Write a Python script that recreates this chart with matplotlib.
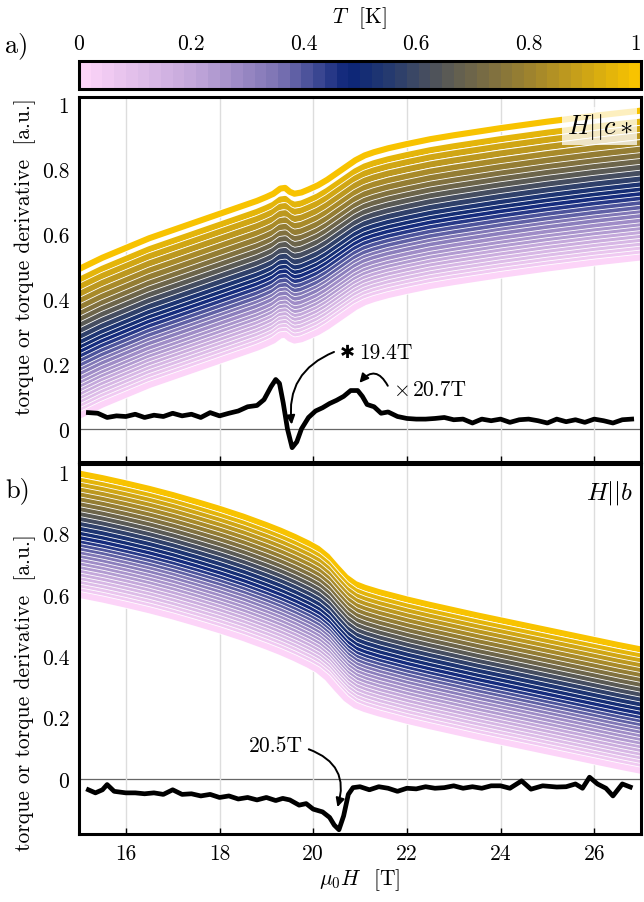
import matplotlib
matplotlib.use("Agg")
import matplotlib.pyplot as plt
import matplotlib.patheffects as pe
from matplotlib.colors import LinearSegmentedColormap, Normalize
from matplotlib.cm import ScalarMappable
import numpy as np

plt.rcParams["font.family"] = "serif"
plt.rcParams["font.serif"] = ["cmr10", "DejaVu Serif"]
plt.rcParams["mathtext.fontset"] = "cm"
plt.rcParams["axes.unicode_minus"] = False
plt.rcParams["axes.formatter.use_mathtext"] = True

# temperatures of the sweeps (K)
temps = [0.02, 0.05, 0.08, 0.11, 0.14, 0.17, 0.20, 0.23, 0.26, 0.29, 0.32, 0.35, 0.38, 0.41,
         0.44, 0.47, 0.50, 0.54, 0.58, 0.62, 0.66, 0.70, 0.74, 0.78, 0.82, 0.86, 0.90, 0.94, 0.98]
# vertical position of each sweep relative to the coldest one
offset_a = [0, 0.012, 0.024, 0.036, 0.048, 0.060, 0.072, 0.084, 0.096, 0.110, 0.124, 0.136, 0.150, 0.164,
            0.178, 0.192, 0.206, 0.222, 0.240, 0.258, 0.276, 0.294, 0.312, 0.332, 0.352, 0.374, 0.396, 0.418, 0.452]
offset_b = [0, 0.012, 0.024, 0.036, 0.048, 0.060, 0.072, 0.084, 0.096, 0.108, 0.120, 0.132, 0.144, 0.156,
            0.168, 0.182, 0.196, 0.212, 0.228, 0.244, 0.260, 0.276, 0.292, 0.308, 0.324, 0.340, 0.356, 0.372, 0.395]

# coldest torque curve, H || c*
field_a = [15.0, 15.5, 16.0, 16.5, 17.0, 17.5, 18.0, 18.5, 18.8, 19.0, 19.15, 19.3, 19.4, 19.5, 19.6,
           19.75, 19.9, 20.1, 20.3, 20.5, 20.7, 20.9, 21.1, 21.3, 21.6, 22.0, 22.5, 23.0, 23.5, 24.0,
           24.5, 25.0, 25.5, 26.0, 26.5, 27.0]
torque_a = [0.040, 0.075, 0.105, 0.135, 0.160, 0.185, 0.210, 0.235, 0.250, 0.262, 0.272, 0.288, 0.290,
            0.278, 0.272, 0.276, 0.285, 0.298, 0.315, 0.335, 0.355, 0.375, 0.390, 0.400, 0.412, 0.425,
            0.440, 0.452, 0.463, 0.474, 0.484, 0.494, 0.503, 0.512, 0.520, 0.528]

# coldest torque curve, H || b
field_b = [15.0, 15.5, 16.0, 16.5, 17.0, 17.5, 18.0, 18.5, 19.0, 19.3, 19.6, 19.9, 20.1, 20.3, 20.5,
           20.7, 20.9, 21.1, 21.4, 21.7, 22.0, 22.5, 23.0, 23.5, 24.0, 24.5, 25.0, 25.5, 26.0, 26.5, 27.0]
torque_b = [0.600, 0.585, 0.568, 0.550, 0.530, 0.508, 0.485, 0.460, 0.432, 0.414, 0.394, 0.372, 0.355,
            0.330, 0.295, 0.262, 0.240, 0.228, 0.214, 0.202, 0.190, 0.172, 0.155, 0.138, 0.122, 0.106,
            0.090, 0.074, 0.058, 0.042, 0.027]

# torque derivatives
dfield_a = [15.2, 15.4, 15.6, 15.8, 16.0, 16.2, 16.4, 16.6, 16.8, 17.0, 17.2, 17.4, 17.6, 17.8, 18.0,
            18.2, 18.4, 18.6, 18.8, 18.95, 19.1, 19.2, 19.28, 19.36, 19.45, 19.55, 19.65, 19.75, 19.9,
            20.05, 20.2, 20.35, 20.5, 20.65, 20.8, 20.95, 21.05, 21.15, 21.3, 21.45, 21.6, 21.8, 22.0,
            22.2, 22.4, 22.6, 22.8, 23.0, 23.2, 23.4, 23.6, 23.8, 24.0, 24.2, 24.4, 24.6, 24.8, 25.0,
            25.2, 25.4, 25.6, 25.8, 26.0, 26.2, 26.4, 26.6, 26.8]
deriv_a = [0.050, 0.048, 0.035, 0.040, 0.038, 0.045, 0.035, 0.042, 0.038, 0.048, 0.040, 0.045, 0.035,
           0.050, 0.040, 0.048, 0.055, 0.068, 0.072, 0.090, 0.130, 0.152, 0.140, 0.080, 0.000, -0.058,
           -0.040, 0.000, 0.035, 0.055, 0.065, 0.078, 0.088, 0.100, 0.118, 0.118, 0.100, 0.075, 0.068,
           0.048, 0.052, 0.038, 0.032, 0.030, 0.030, 0.032, 0.035, 0.028, 0.030, 0.018, 0.030, 0.025,
           0.030, 0.020, 0.028, 0.030, 0.025, 0.018, 0.030, 0.022, 0.028, 0.020, 0.030, 0.025, 0.018,
           0.028, 0.030]

dfield_b = [15.2, 15.35, 15.5, 15.6, 15.75, 16.0, 16.2, 16.4, 16.6, 16.8, 17.0, 17.2, 17.4, 17.6, 17.8,
            18.0, 18.2, 18.4, 18.6, 18.8, 19.0, 19.2, 19.35, 19.5, 19.7, 19.85, 20.0, 20.2, 20.35, 20.45,
            20.55, 20.65, 20.75, 20.85, 21.0, 21.2, 21.4, 21.6, 21.8, 22.0, 22.2, 22.4, 22.6, 22.8, 23.0,
            23.2, 23.4, 23.6, 23.8, 24.0, 24.2, 24.45, 24.65, 24.9, 25.2, 25.4, 25.6, 25.75, 25.9, 26.07,
            26.25, 26.4, 26.6, 26.77]
deriv_b = [-0.035, -0.045, -0.035, -0.018, -0.040, -0.045, -0.045, -0.048, -0.045, -0.050, -0.035,
           -0.050, -0.048, -0.055, -0.050, -0.060, -0.055, -0.065, -0.060, -0.068, -0.060, -0.070,
           -0.063, -0.068, -0.085, -0.080, -0.098, -0.107, -0.125, -0.150, -0.165, -0.120, -0.050,
           -0.028, -0.025, -0.035, -0.025, -0.030, -0.040, -0.030, -0.032, -0.025, -0.030, -0.028,
           -0.022, -0.030, -0.025, -0.030, -0.022, -0.022, -0.030, -0.006, -0.033, -0.022, -0.026,
           -0.025, -0.016, -0.030, 0.006, -0.016, -0.030, -0.055, -0.016, -0.026]

cmap = LinearSegmentedColormap.from_list(
    "tcmap",
    [(0.0, "#fcd4f8"), (0.2, "#c2a6da"), (0.35, "#7d74b4"), (0.48, "#0a2478"),
     (0.56, "#283c6e"), (0.66, "#5a5a55"), (0.8, "#9a8030"), (1.0, "#f8c300")], N=48)
norm = Normalize(0, 1)

fig = plt.figure(figsize=(6.44, 9.03), dpi=100)
cax = fig.add_axes([0.1227, 0.9003, 0.8727, 0.031])
ax_a = fig.add_axes([0.1227, 0.4873, 0.8727, 0.4042])
ax_b = fig.add_axes([0.1227, 0.0753, 0.8727, 0.4097])

fs = 15.5
for ax, fld, base, offs, dfld, dv in [(ax_a, field_a, torque_a, offset_a, dfield_a, deriv_a),
                                      (ax_b, field_b, torque_b, offset_b, dfield_b, deriv_b)]:
    ax.grid(axis="x", color="#dddddd", lw=1, zorder=0)
    ax.axhline(0, color="0.4", lw=0.9, zorder=1)
    for T, o in sorted(zip(temps, offs), reverse=True):
        ax.plot(fld, np.array(base) + o, color=cmap(norm(T)), lw=4.4, zorder=2,
                solid_capstyle="butt",
                path_effects=[pe.Stroke(linewidth=5.6, foreground="white"), pe.Normal()])
    ax.plot(dfld, dv, color="black", lw=3.4, zorder=3)
    ax.set_xlim(15, 27)
    ax.set_xticks([16, 18, 20, 22, 24, 26])
    ax.set_yticks([0, 0.2, 0.4, 0.6, 0.8, 1])
    ax.set_yticklabels(["0", "0.2", "0.4", "0.6", "0.8", "1"])
    ax.tick_params(axis="x", direction="in", length=4, width=1, labelsize=fs, pad=7)
    ax.tick_params(axis="y", length=0, labelsize=fs, pad=7)
    for s in ax.spines.values():
        s.set_linewidth(2.2)
        s.set_zorder(5)
    ax.set_ylabel("torque or torque derivative  [a.u.]", fontsize=fs)

ax_a.yaxis.set_label_coords(-0.077, 0.565)
ax_b.yaxis.set_label_coords(-0.077, 0.385)
ax_a.set_ylim(-0.102, 1.022)
ax_b.set_ylim(-0.179, 1.026)
ax_a.set_xticklabels([])
ax_b.set_xticklabels(["16", "18", "20", "22", "24", "26"])
ax_b.set_xlabel(r"$\mu_0 H$  [T]", fontsize=fs, labelpad=2)

ax_a.text(0.985, 0.962, r"$H||c*$", transform=ax_a.transAxes, ha="right", va="top", fontsize=19,
          zorder=6, bbox=dict(facecolor="white", alpha=0.75, edgecolor="none", pad=3))
ax_b.text(0.985, 0.962, r"$H||b$", transform=ax_b.transAxes, ha="right", va="top", fontsize=18,
          zorder=6)

# annotations
ax_a.text(20.72, 0.237, "\u2731", fontsize=13, ha="center", va="center", family="DejaVu Sans", zorder=6)
ax_a.text(20.98, 0.237, "19.4T", fontsize=fs, ha="left", va="center", zorder=6)
ax_a.annotate("", xy=(19.55, 0.005), xytext=(20.5, 0.24),
              arrowprops=dict(arrowstyle="-|>", color="black", lw=1.4,
                              connectionstyle="arc3,rad=0.4", mutation_scale=13), zorder=6)
ax_a.text(21.88, 0.123, r"$\times$", fontsize=fs, ha="center", va="center", zorder=6)
ax_a.text(22.12, 0.123, "20.7T", fontsize=fs, ha="left", va="center", zorder=6)
ax_a.annotate("", xy=(20.95, 0.135), xytext=(21.62, 0.125),
              arrowprops=dict(arrowstyle="-|>", color="black", lw=1.4,
                              connectionstyle="arc3,rad=0.8", mutation_scale=13), zorder=6)
ax_b.text(19.2, 0.11, "20.5T", fontsize=fs, ha="center", va="center", zorder=6)
ax_b.annotate("", xy=(20.5, -0.1), xytext=(19.85, 0.1),
              arrowprops=dict(arrowstyle="-|>", color="black", lw=1.4,
                              connectionstyle="arc3,rad=-0.5", mutation_scale=13), zorder=6)

# colorbar
cb = fig.colorbar(ScalarMappable(norm=norm, cmap=cmap), cax=cax, orientation="horizontal")
cb.set_ticks([0, 0.2, 0.4, 0.6, 0.8, 1])
cb.set_ticklabels(["0", "0.2", "0.4", "0.6", "0.8", "1"])
cax.xaxis.set_ticks_position("top")
cax.xaxis.set_label_position("top")
cax.tick_params(length=0, labelsize=fs, pad=6)
cax.get_xticklabels()[-1].set_horizontalalignment("right")
cb.outline.set_linewidth(2.2)
cb.set_label(r"$T$  [K]", fontsize=fs, labelpad=8)

fig.text(0.008, 0.95, "a)", fontsize=19, va="center")
fig.text(0.008, 0.457, "b)", fontsize=19, va="center")

fig.savefig("out.png", dpi=100)
